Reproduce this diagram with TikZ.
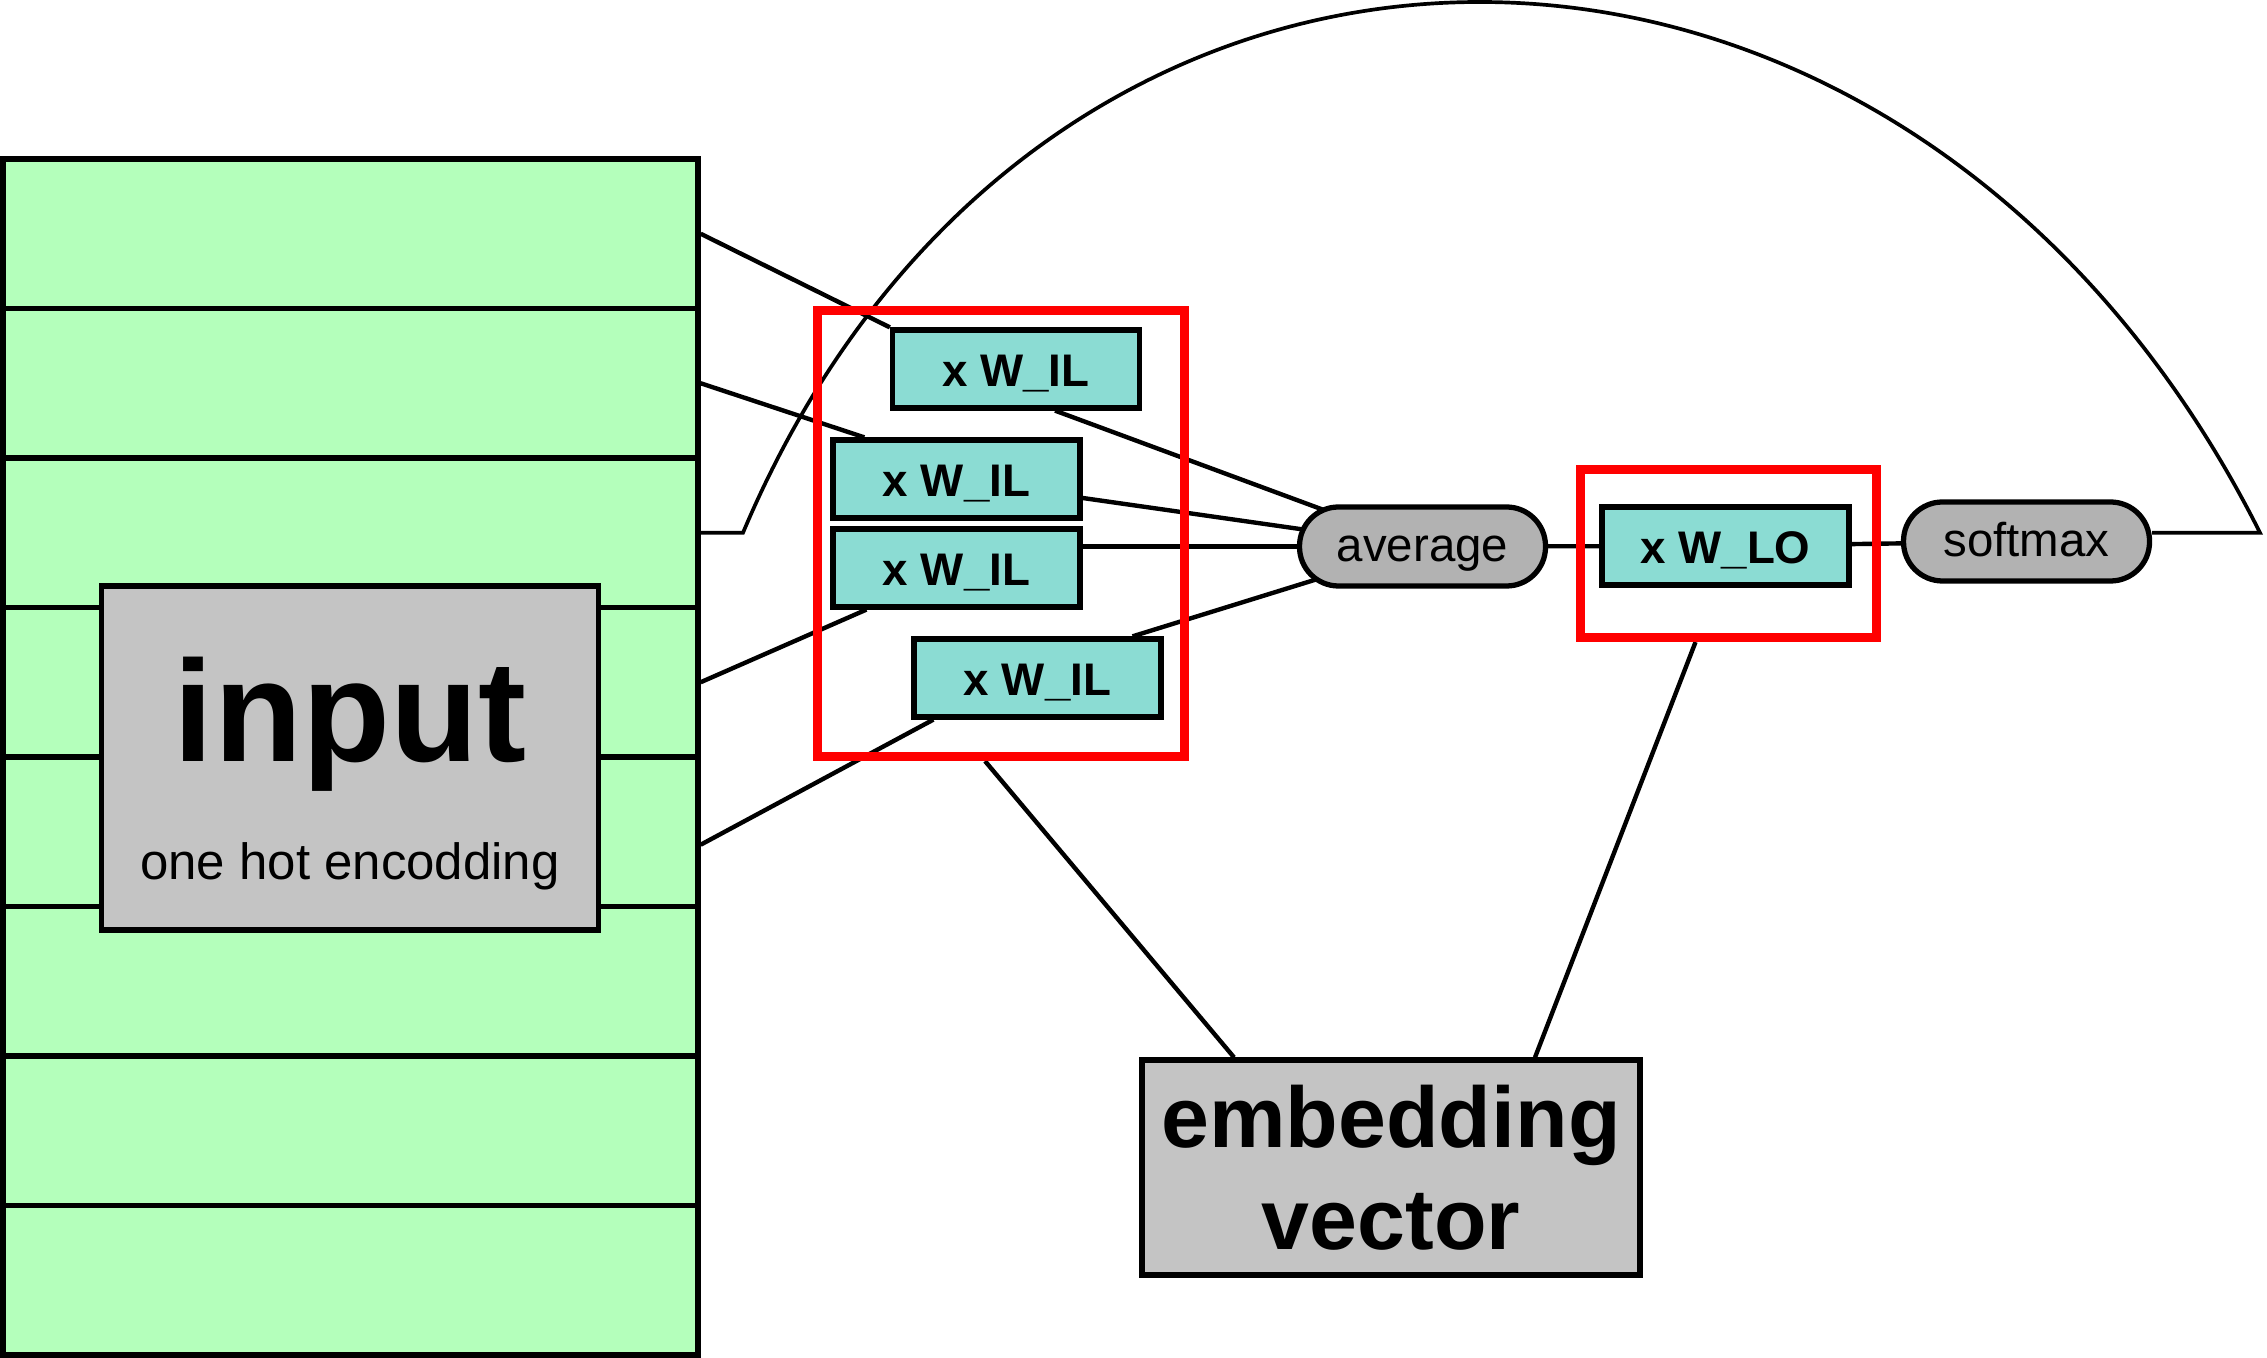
\documentclass[tikz,border=0pt]{standalone}
\usepackage{fontspec}
\setmainfont{Liberation Sans}
\usetikzlibrary{calc,backgrounds}
\definecolor{rowgreen}{RGB}{180,255,187}
\definecolor{boxteal}{RGB}{139,220,211}
\definecolor{boxgray}{RGB}{196,196,196}
\definecolor{pillgray}{RGB}{178,178,178}

\begin{document}
\begin{tikzpicture}[
	rowcell/.style={draw, fill=rowgreen, line width=1.5pt, minimum width=69.5mm, minimum height=14.95mm, inner sep=0pt},
	greybox/.style={draw, fill=boxgray, line width=1.5pt, inner sep=0pt},
	weight/.style={draw, fill=boxteal, line width=1.5pt, minimum width=24.7mm, minimum height=7.8mm, inner sep=0pt, text height=3.5mm, text depth=0mm, font=\fontsize{13}{15}\selectfont\bfseries},
	op/.style={draw, fill=pillgray, line width=1.5pt, rounded corners=3.9mm, minimum width=24.6mm, minimum height=7.9mm, inner sep=0pt, text height=3.1mm, text depth=0mm, font=\fontsize{13.5}{16}\selectfont},
	hilite/.style={draw=red, line width=2.6pt, inner sep=0pt},
	link/.style={line width=1.25pt}
]
	\useasboundingbox (0,0) rectangle (22.67,-13.58);

	% one hot column: 8 rows
	\foreach \k in {1,...,8} {
		\node[rowcell] (row\k) at (3.505,{-1.59-1.495*(\k-0.5)}) {};
	}
	\node[greybox, minimum width=49.7mm, minimum height=34.4mm] (input) at (3.50,-7.58) {};
	\node[anchor=base, font=\fontsize{41}{41}\selectfont\bfseries] (inputtitle) at ($(input.center)+(0,-0.04)$) {input};
	\node[anchor=base, font=\fontsize{14.5}{17}\selectfont] (inputsub) at ($(input.center)+(0,-1.22)$) {one hot encodding};

	% input to hidden weights
	\foreach \name/\x/\y in {w1/10.16/-3.69, w2/9.565/-4.79, w3/9.565/-5.68, w4/10.375/-6.78} {
		\node[weight] (\name) at (\x,\y) {x W\_IL};
	}
	\node[op] (avg) at (14.225,-5.465) {average};
	\node[weight] (wlo) at (17.255,-5.46) {x W\_LO};
	\node[op] (sm) at (20.265,-5.415) {softmax};

	% red frames round the weights
	\node[hilite, minimum width=36.7mm, minimum height=44.6mm] (red1) at (10.01,-5.335) {};
	\node[hilite, minimum width=29.6mm, minimum height=16.8mm] (red2) at (17.285,-5.535) {};

	\node[greybox, minimum width=49.8mm, minimum height=21.5mm, align=center, font=\fontsize{24.5}{29}\selectfont\bfseries] (emb) at (13.91,-11.675) {embedding\\vector};

	% connectors, kept under the boxes
	\begin{scope}[on background layer]
		\draw[link] (row1.east) -- (w1.north west);
		\draw[link] (row2.east) -- ([xshift=3.4mm]w2.north west);
		\draw[link] (row4.east) -- ([xshift=3.6mm]w3.south west);
		\draw[link] ([yshift=-1.3mm]row5.east) -- ([xshift=2.2mm]w4.south west);
		\draw[link] ([xshift=3.9mm]w1.south) -- (avg.center);
		\draw[link] ([yshift=-1.9mm]w2.east) -- (avg.center);
		\draw[link] (w3.east |- avg.center) -- (avg.center);
		\draw[link] ([xshift=9.5mm]w4.north) -- (avg.center);
		\draw[link] (avg.center) -- (wlo.center);
		\draw[link] (wlo.center) -- (sm.center);
		% loop from the third row back to softmax
		\coordinate (arcL) at (7.43,-5.3275);
		\coordinate (arcR) at (22.60,-5.3275);
		\draw[link, line width=1.05pt] (row3.east) -- (arcL) .. controls (10.41,1.749) and (19.04,1.749) .. (arcR) -- (arcR -| sm.east);
		\draw[link] ([xshift=-15.7mm]emb.north) -- ([xshift=-1.6mm]red1.south);
		\draw[link] ([xshift=14.4mm]emb.north) -- ([xshift=-3.3mm]red2.south);
	\end{scope}
\end{tikzpicture}
\end{document}
